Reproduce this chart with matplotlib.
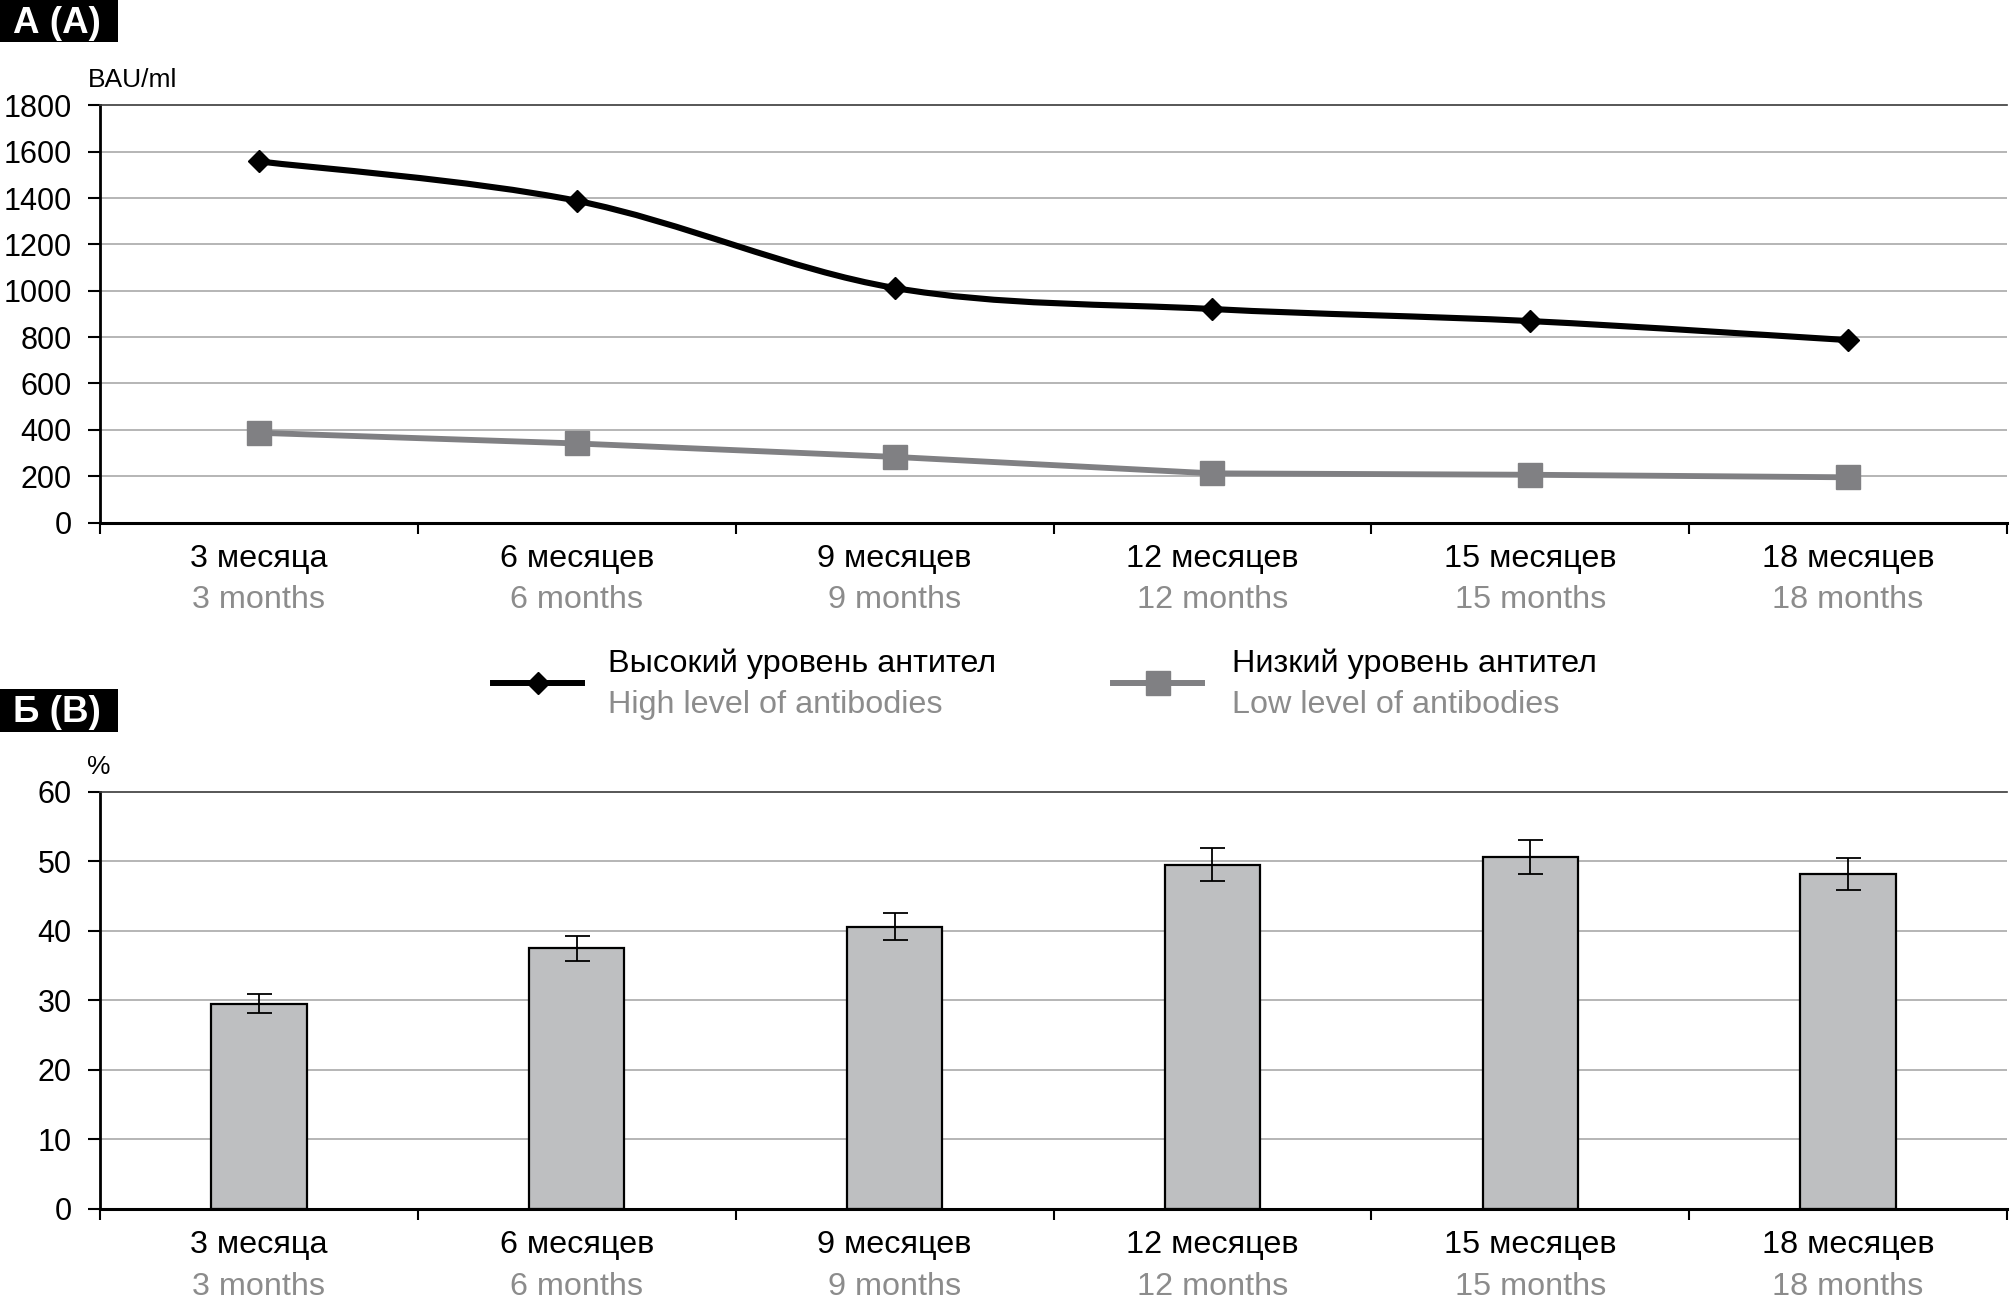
import matplotlib
matplotlib.use("Agg")
import matplotlib.pyplot as plt
import numpy as np
from matplotlib.path import Path
from matplotlib.patches import PathPatch, Rectangle
from matplotlib.lines import Line2D

plt.rcParams['font.family'] = ['Liberation Sans', 'DejaVu Sans']

# ---------------- data ----------------
categories_ru = ["3 месяца", "6 месяцев", "9 месяцев", "12 месяцев", "15 месяцев", "18 месяцев"]
categories_en = ["3 months", "6 months", "9 months", "12 months", "15 months", "18 months"]
high_level = [1558, 1388, 1012, 921, 869, 787]
low_level = [387, 341, 283, 212, 206, 195]
bar_values = [29.5, 37.5, 40.6, 49.5, 50.6, 48.2]
bar_errors = [1.4, 1.8, 1.95, 2.4, 2.5, 2.3]
series_ru = ["Высокий уровень антител", "Низкий уровень антител"]
series_en = ["High level of antibodies", "Low level of antibodies"]
yticks_top = [0, 200, 400, 600, 800, 1000, 1200, 1400, 1600, 1800]
yticks_bot = [0, 10, 20, 30, 40, 50, 60]

W, H = 2010, 1301
fig = plt.figure(figsize=(W / 100, H / 100), dpi=100)

def fy(ypx):
    return 1 - ypx / H

def fx(xpx):
    return xpx / W

BLACK = "#000000"
GREY_LINE = "#808083"
GREY_TEXT = "#8c8c8c"
GRID = "#b0b0b0"
BAR = "#bebfc1"
LABEL_FS = 23.3

x = np.arange(len(categories_ru))

def style_axes(ax, yticks, ymax):
    ax.set_xlim(-0.5, len(categories_ru) - 0.5)
    ax.set_ylim(0, ymax)
    ax.set_yticks(yticks)
    ax.set_xticks(np.arange(-0.5, len(categories_ru)))
    ax.set_xticklabels([])
    for yv in yticks[1:-1]:
        ax.axhline(yv, color=GRID, lw=1.3, zorder=0)
    ax.spines['right'].set_visible(False)
    ax.spines['top'].set_color('#3a3a3a')
    ax.spines['top'].set_linewidth(1.2)
    ax.spines['left'].set_linewidth(2.0)
    ax.spines['bottom'].set_linewidth(2.2)
    ax.tick_params(axis='y', direction='out', length=8.5, width=1.5, pad=12,
                   labelsize=22, colors=BLACK)
    ax.tick_params(axis='x', direction='out', length=8, width=1.5)
    for i in range(len(categories_ru)):
        ax.annotate(categories_ru[i], xy=(i, 0), xycoords=('data', 'axes fraction'),
                    xytext=(0, -44 * 0.72), textcoords='offset points',
                    ha='center', va='baseline', fontsize=LABEL_FS, color=BLACK)
        ax.annotate(categories_en[i], xy=(i, 0), xycoords=('data', 'axes fraction'),
                    xytext=(0, -86 * 0.72), textcoords='offset points',
                    ha='center', va='baseline', fontsize=LABEL_FS, color=GREY_TEXT)

# ---------------- top panel ----------------
ax1 = fig.add_axes([fx(100), fy(522.5), fx(2007) - fx(100), fy(105.3) - fy(522.5)])
style_axes(ax1, yticks_top, 1800)

def smooth_path(xs, ys):
    pts = np.column_stack([xs, ys]).astype(float)
    n = len(pts)
    verts = [pts[0]]
    codes = [Path.MOVETO]
    for i in range(n - 1):
        p0 = pts[i - 1] if i > 0 else pts[i]
        p1 = pts[i]
        p2 = pts[i + 1]
        p3 = pts[i + 2] if i + 2 < n else pts[i + 1]
        c1 = p1 + (p2 - p0) / 6.0
        c2 = p2 - (p3 - p1) / 6.0
        verts += [c1, c2, p2]
        codes += [Path.CURVE4] * 3
    return Path(verts, codes)

ax1.add_patch(PathPatch(smooth_path(x, high_level), facecolor='none', edgecolor=BLACK,
                        lw=4.4, zorder=3, capstyle='round', joinstyle='round'))
ax1.plot(x, high_level, linestyle='none', marker='D', ms=11, color=BLACK, zorder=4)
ax1.plot(x, low_level, color=GREY_LINE, lw=4.2, marker='s', ms=17, zorder=3)

fig.text(fx(88), fy(87), "BAU/ml", fontsize=19, ha='left', va='baseline')

# legend (manual)
def legend_entry(x0, x1, ymid, marker, ms, color, tx, ru, en):
    fig.add_artist(Line2D([fx(x0), fx(x1)], [fy(ymid), fy(ymid)], color=color,
                          lw=4.3, transform=fig.transFigure))
    fig.add_artist(Line2D([fx((x0 + x1) / 2)], [fy(ymid)], marker=marker, ms=ms,
                          color=color, transform=fig.transFigure, linestyle='none'))
    fig.text(fx(tx), fy(672), ru, fontsize=LABEL_FS, color=BLACK, ha='left', va='baseline')
    fig.text(fx(tx), fy(713), en, fontsize=LABEL_FS, color=GREY_TEXT, ha='left', va='baseline')

legend_entry(493, 582, 683, 'D', 11, BLACK, 608, series_ru[0], series_en[0])
legend_entry(1113, 1202, 683, 's', 17, GREY_LINE, 1232, series_ru[1], series_en[1])

# ---------------- bottom panel ----------------
ax2 = fig.add_axes([fx(100), fy(1208.7), fx(2007) - fx(100), fy(791.8) - fy(1208.7)])
style_axes(ax2, yticks_bot, 60)
ax2.bar(x, bar_values, width=0.30, color=BAR, edgecolor=BLACK, linewidth=1.6, zorder=2)
ax2.errorbar(x, bar_values, yerr=bar_errors, fmt='none', ecolor=BLACK, elinewidth=1.3,
             capsize=9, capthick=1.3, zorder=3)
fig.text(fx(87), fy(774), "%", fontsize=19, ha='left', va='baseline')

# panel tags
for (y0, y1, label) in [(0, 42, "А (А)"), (689, 732, "Б (B)")]:
    fig.add_artist(Rectangle((0, fy(y1)), fx(118), fy(y0) - fy(y1), transform=fig.transFigure,
                             facecolor=BLACK, edgecolor='none'))
    fig.text(fx(13), fy((y0 + y1) / 2 + 12), label, fontsize=26.5, fontweight='bold',
             color='white', ha='left', va='baseline')

fig.savefig("out.png", dpi=100)
